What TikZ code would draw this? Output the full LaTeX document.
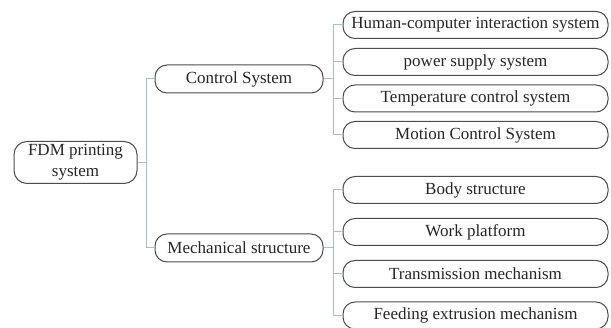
\documentclass[tikz,border=0pt]{standalone}
\usepackage{fontspec}
\setmainfont{Liberation Serif}
\begin{document}
\begin{tikzpicture}[x=1pt,y=-1pt,
  box/.style={draw=black!70,line width=1pt,rounded corners=12pt,fill=white,inner sep=0pt,
    font=\fontsize{17}{21}\selectfont,align=center,text=black!85},
  leaf/.style={box,minimum width=265pt,minimum height=27pt},
  mid/.style={box,minimum width=168pt,minimum height=28pt},
  conn/.style={draw={rgb,255:red,170;green,188;blue,205},line width=1pt}]
\useasboundingbox (0,0) rectangle (611,328);
\node[box,minimum width=123pt,minimum height=42pt,rounded corners=13pt] (root) at (75.5,162.5) {FDM printing\\system};
\node[mid] (cs) at (239,79) {Control System};
\node[mid] (ms) at (239,248) {Mechanical structure};
\node[leaf] (c1) at (475.5,25) {Human-computer interaction system};
\node[leaf] (c2) at (475.5,62) {power supply system};
\node[leaf] (c3) at (475.5,98.5) {Temperature control system};
\node[leaf] (c4) at (475.5,135) {Motion Control System};
\node[leaf] (m1) at (475.5,190) {Body structure};
\node[leaf] (m2) at (475.5,232) {Work platform};
\node[leaf] (m3) at (475.5,274) {Transmission mechanism};
\node[leaf] (m4) at (475.5,315.5) {Feeding extrusion mechanism};
\coordinate (j0) at ([xshift=9pt]root.east);
\coordinate (j1) at ([xshift=10pt]cs.east);
\coordinate (j2) at ([xshift=10pt]ms.east);
\begin{scope}[on background layer/.style={}]
\draw[conn] (root.east) -- (j0);
\draw[conn] (j0) |- (cs.west);
\draw[conn] (j0) |- (ms.west);
\draw[conn] (cs.east) -- (j1);
\foreach \n in {c1,c2,c3,c4} \draw[conn] (j1) |- (\n.west);
\draw[conn] (ms.east) -- (j2);
\foreach \n in {m1,m2,m3,m4} \draw[conn] (j2) |- (\n.west);
\end{scope}
\end{tikzpicture}
\end{document}
